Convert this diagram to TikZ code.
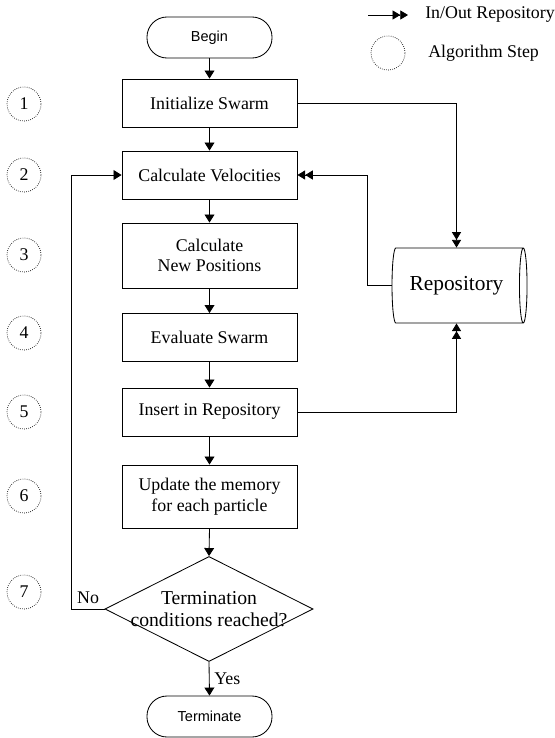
\documentclass[tikz,border=0pt]{standalone}
\usepackage{fontspec}
\setmainfont{Liberation Serif}
\setsansfont{Liberation Sans}
\usetikzlibrary{shapes.geometric, arrows.meta, calc}

\begin{document}
\begin{tikzpicture}[x=0.025cm, y=-0.025cm,
  txt/.style={font=\fontsize{12.7}{14.6}\selectfont},
  proc/.style={draw=black, line width=0.6pt, rectangle, minimum width=4.375cm, minimum height=1.2cm, inner sep=2pt, align=center, txt},
  pill/.style={draw=black, line width=0.6pt, rectangle, rounded corners=0.5cm, minimum width=3.125cm, minimum height=1.025cm, font=\sffamily\fontsize{10.3}{12}\selectfont},
  stepcirc/.style={draw=black, densely dotted, line width=0.5pt, circle, minimum size=0.85cm, inner sep=0pt, txt},
  flow/.style={draw=black, line width=0.6pt, -{Triangle[length=5.7pt, width=7pt]}},
  repoflow/.style={draw=black, line width=0.6pt, -{Triangle[length=5.5pt, width=6.5pt]Triangle[length=5.5pt, width=6.5pt]}}
]
%PICTURE SCOPE
\useasboundingbox (0,0) rectangle (554,738);
%LEGEND
\coordinate (legstart) at (368,15);
\coordinate (legend) at (408,15);
\draw [repoflow] (legstart) -- (legend);
\node (legio) [txt, anchor=west, inner sep=0pt] at (425,15) {In/Out Repository};
\node (legcirc) [stepcirc] at (388,53) {};
\node (legstep) [txt, anchor=west, inner sep=0pt] at (428,53) {Algorithm Step};
%STEPS
\foreach \n/\y in {1/104, 2/175, 3/255, 4/333, 5/412, 6/496, 7/592}
  \node (step\n) [stepcirc] at (24,\y) {\n};
%FLOW
\node (begin) [pill] at (209.5,37.5) {Begin};
\node (init) [proc] at (209.5,103) {Initialize Swarm};
\node (vel) [proc] at (209.5,175) {Calculate Velocities};
\node (pos) [proc, minimum height=1.625cm] at (209.5,255.5) {Calculate\\New Positions};
\node (eval) [proc] at (209.5,337.5) {Evaluate Swarm};
\node (ins) [proc] at (209.5,412) {Insert in Repository};
\node (upd) [proc, minimum height=1.575cm] at (209.5,496.5) {Update the memory\\for each particle};
\node (term) [diamond, draw=black, line width=0.6pt, minimum width=5.2cm, minimum height=2.625cm, inner sep=0pt,
  label={[align=center, font=\fontsize{14}{15.5}\selectfont]center:Termination\\conditions reached?}] at (209,609) {};
\node (stop) [pill] at (209.5,716.5) {Terminate};
%REPOSITORY
\node (repo) [cylinder, draw=black, line width=0.6pt, shape aspect=0.27, minimum width=1.875cm, minimum height=3.375cm,
  font=\fontsize{15.2}{17}\selectfont] at (456.5,285.5) {Repository};
%%CONNECTIONS
\draw [flow] (begin.south) -- (init.north);
\draw [flow] (init.south) -- (vel.north);
\draw [flow] (vel.south) -- (pos.north);
\draw [flow] (pos.south) -- (eval.north);
\draw [flow] (eval.south) -- (ins.north);
\draw [flow] (ins.south) -- (upd.north);
\draw [flow] (upd.south) -- (term.north);
\draw [flow] (term.south) -- node [right, txt] {Yes} (stop.north);
\draw [flow] (term.west) -- node [above, txt] {No} ++(-33,0) |- (vel.west);
%%REPOSITORY IN/OUT
\draw [repoflow] (init.east) -| (repo.north);
\draw [repoflow] (ins.east) -| (repo.south);
\draw [repoflow] (repo.west) -- ++(-24,0) |- (vel.east);
\end{tikzpicture}
\end{document}
